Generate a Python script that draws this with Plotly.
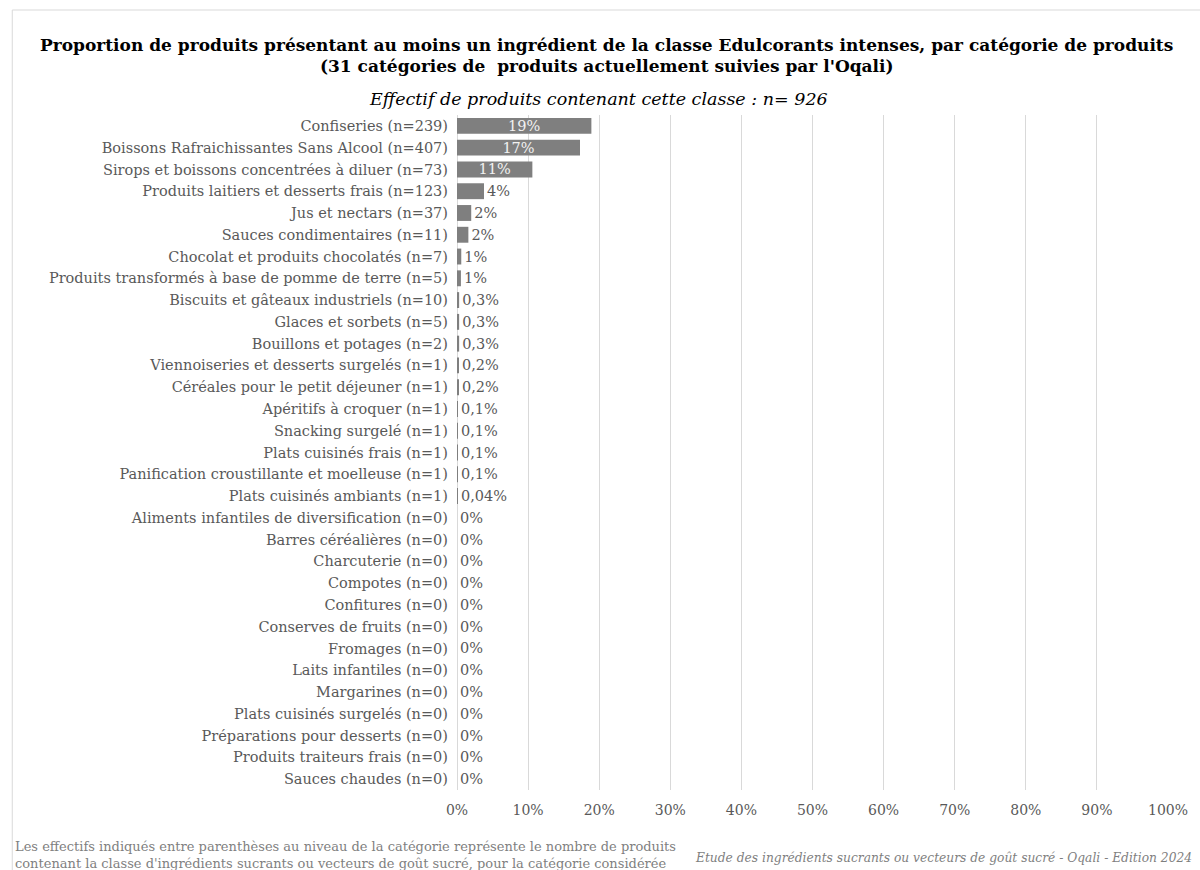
import plotly.graph_objects as go

# Catégories de produits (ordre d'affichage, du haut vers le bas)
categories = [
    "Confiseries (n=239)",
    "Boissons Rafraichissantes Sans Alcool (n=407)",
    "Sirops et boissons concentrées à diluer (n=73)",
    "Produits laitiers et desserts frais (n=123)",
    "Jus et nectars (n=37)",
    "Sauces condimentaires (n=11)",
    "Chocolat et produits chocolatés (n=7)",
    "Produits transformés à base de pomme de terre (n=5)",
    "Biscuits et gâteaux industriels (n=10)",
    "Glaces et sorbets (n=5)",
    "Bouillons et potages (n=2)",
    "Viennoiseries et desserts surgelés (n=1)",
    "Céréales pour le petit déjeuner (n=1)",
    "Apéritifs à croquer (n=1)",
    "Snacking surgelé (n=1)",
    "Plats cuisinés frais (n=1)",
    "Panification croustillante et moelleuse (n=1)",
    "Plats cuisinés ambiants (n=1)",
    "Aliments infantiles de diversification (n=0)",
    "Barres céréalières (n=0)",
    "Charcuterie (n=0)",
    "Compotes (n=0)",
    "Confitures (n=0)",
    "Conserves de fruits (n=0)",
    "Fromages (n=0)",
    "Laits infantiles (n=0)",
    "Margarines (n=0)",
    "Plats cuisinés surgelés (n=0)",
    "Préparations pour desserts (n=0)",
    "Produits traiteurs frais (n=0)",
    "Sauces chaudes (n=0)",
]

# Proportion (%) de produits contenant au moins un édulcorant intense
proportions = [
    18.9, 17.3, 10.6, 3.8, 2.0, 1.6, 0.6, 0.55,
    0.3, 0.3, 0.3, 0.2, 0.2, 0.1, 0.1, 0.1, 0.1, 0.04,
    0, 0, 0, 0, 0, 0, 0, 0, 0, 0, 0, 0, 0,
]

# Graduations de l'axe des proportions
tick_values = [0, 10, 20, 30, 40, 50, 60, 70, 80, 90, 100]
tick_labels = ["0%", "10%", "20%", "30%", "40%", "50%", "60%", "70%", "80%", "90%", "100%"]


def pct_label(v):
    if v == 0:
        return "0%"
    if v >= 0.5:
        return f"{int(v + 0.5)}%"
    return f"{v:.2f}".rstrip("0").rstrip(".").replace(".", ",") + "%"


labels = [pct_label(v) for v in proportions]
positions = ["inside" if v >= 10 else "outside" for v in proportions]

FONT = "DejaVu Serif"
GREY_TXT = "#595959"

# Plot area geometry (pixels)
W, H = 1200, 870
L, R, T, B = 457, 30, 115, 80
PW, PH = W - L - R, H - T - B


def px(x):
    return (x - L) / PW


def py(y):
    return (H - B - y) / PH


fig = go.Figure(
    go.Bar(
        x=proportions,
        y=categories,
        orientation="h",
        marker=dict(color="#7f7f7f", line=dict(width=0)),
        text=labels,
        textposition=positions,
        insidetextanchor="middle",
        insidetextfont=dict(family=FONT, size=14.5, color="#f2f2f2"),
        outsidetextfont=dict(family=FONT, size=14.5, color=GREY_TXT),
        cliponaxis=False,
        hoverinfo="skip",
    )
)

fig.update_layout(
    width=W,
    height=H,
    margin=dict(l=L, r=R, t=T, b=B),
    paper_bgcolor="white",
    plot_bgcolor="white",
    bargap=0.27,
    showlegend=False,
    uniformtext=dict(minsize=14.5, mode="show"),
    font=dict(family=FONT, color=GREY_TXT),
    xaxis=dict(
        range=[0, 100],
        tickvals=tick_values,
        ticktext=tick_labels,
        showgrid=True,
        gridcolor="#d9d9d9",
        gridwidth=1,
        zeroline=True,
        zerolinecolor="#d9d9d9",
        zerolinewidth=1,
        showline=False,
        ticks="",
        tickfont=dict(family=FONT, size=14, color=GREY_TXT),
        ticklabelstandoff=10,
        fixedrange=True,
    ),
    yaxis=dict(
        categoryorder="array",
        categoryarray=categories,
        autorange="reversed",
        showgrid=False,
        zeroline=False,
        showline=False,
        ticks="",
        tickfont=dict(family=FONT, size=14.5, color=GREY_TXT),
        ticklabelstandoff=8,
        fixedrange=True,
    ),
)

# Cadre de la zone du graphique
fig.add_shape(
    type="rect",
    xref="paper", yref="paper",
    x0=px(11), x1=px(1215), y0=py(885), y1=py(10),
    line=dict(color="#d9d9d9", width=1),
    fillcolor="rgba(0,0,0,0)",
    layer="below",
)

annotations = [
    dict(
        text="<b>Proportion de produits présentant au moins un ingrédient de la classe Edulcorants intenses, par catégorie de produits</b>",
        x=px(607), y=py(45), font=dict(family=FONT, size=17, color="#000000"),
    ),
    dict(
        text="<b>(31 catégories de  produits actuellement suivies par l'Oqali)</b>",
        x=px(607), y=py(66), font=dict(family=FONT, size=17, color="#000000"),
    ),
    dict(
        text="<i>Effectif de produits contenant cette classe : n= 926</i>",
        x=px(599), y=py(99), font=dict(family=FONT, size=17.5, color="#000000"),
    ),
]

for a in annotations:
    fig.add_annotation(xref="paper", yref="paper", showarrow=False,
                       xanchor="center", yanchor="middle", **a)

fig.add_annotation(
    xref="paper", yref="paper", showarrow=False,
    x=px(12), y=py(855), xanchor="left", yanchor="middle", align="left",
    text=("Les effectifs indiqués entre parenthèses au niveau de la catégorie représente le nombre de produits<br>"
          "contenant la classe d'ingrédients sucrants ou vecteurs de goût sucré, pour la catégorie considérée"),
    font=dict(family=FONT, size=13, color="#7f7f7f"),
)
fig.add_annotation(
    xref="paper", yref="paper", showarrow=False,
    x=px(1196), y=py(858), xanchor="right", yanchor="middle",
    text="<i>Etude des ingrédients sucrants ou vecteurs de goût sucré - Oqali - Edition 2024</i>",
    font=dict(family=FONT, size=12.25, color="#7f7f7f"),
)

fig.write_html("out.html")
